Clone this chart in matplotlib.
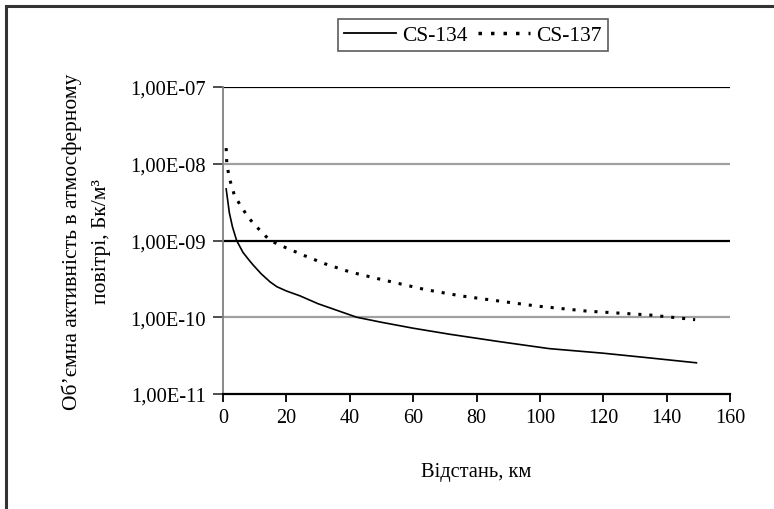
import numpy as np
import matplotlib.pyplot as plt
from matplotlib.ticker import FixedLocator, FuncFormatter, NullLocator
from matplotlib.patches import Rectangle
from matplotlib.lines import Line2D

plt.rcParams['font.family'] = ['Liberation Serif', 'DejaVu Serif']

# distance, km
km_134 = [1, 2, 3, 4.3, 6.3, 8, 9.5, 12, 14.8, 17, 20, 24.3, 30, 42.2, 50, 60, 71.6, 87.4, 103, 120, 134.7, 149.4]
cs_134 = [4.7e-9, 2.3e-9, 1.5e-9, 1.0e-9, 7.0e-10, 5.7e-10, 4.8e-10, 3.7e-10, 2.9e-10, 2.5e-10, 2.2e-10, 1.9e-10,
          1.5e-10, 1.0e-10, 8.6e-11, 7.2e-11, 6.0e-11, 4.8e-11, 3.9e-11, 3.4e-11, 2.95e-11, 2.55e-11]

km_137 = [1, 1.2, 2, 3.5, 5.4, 8, 10, 14.8, 20, 25.9, 32, 40, 50, 63.7, 75, 83.6, 99, 115, 134.7, 149]
cs_137 = [1.6e-8, 1.0e-8, 6.5e-9, 4.0e-9, 2.9e-9, 2.0e-9, 1.6e-9, 1.0e-9, 8.0e-10, 6.3e-10,
          5.0e-10, 3.9e-10, 3.1e-10, 2.3e-10, 1.9e-10, 1.7e-10, 1.4e-10, 1.2e-10, 1.07e-10, 9.3e-11]

y_ticks = [1e-11, 1e-10, 1e-9, 1e-8, 1e-7]
x_ticks = [0, 20, 40, 60, 80, 100, 120, 140, 160]
grid_colors = ['#a0a0a0', 'black', '#a0a0a0', 'black']  # for 1e-10 .. 1e-7

dots = (0, (1.0, 2.6))

fig = plt.figure(figsize=(7.74, 5.10), dpi=100)
ax = fig.add_axes([223/774, 1 - 395/510, (730 - 223)/774, (395 - 88)/510])

# outer chart frame (only left and top edges are visible)
fig.patches.append(Rectangle((5.5/774, -0.1), 1.2, 1.1 - 6.5/510, transform=fig.transFigure,
                             fill=False, edgecolor='#333333', linewidth=2.2))

for val, c in zip(y_ticks[1:], grid_colors):
    ax.axhline(val, color=c, linewidth=1.6, zorder=1)

ax.plot(km_134, cs_134, color='black', linewidth=1.2, zorder=3)
ax.plot(km_137, cs_137, color='black', linewidth=2.2, linestyle=dots, zorder=3)

ax.set_yscale('log')
ax.set_ylim(1e-11, 1e-7)
ax.set_xlim(0, 160)
ax.yaxis.set_major_locator(FixedLocator(y_ticks))
ax.yaxis.set_minor_locator(NullLocator())
ax.yaxis.set_major_formatter(FuncFormatter(lambda v, p: ('%.2E' % v).replace('.', ',')))
ax.set_xticks(x_ticks)

for s in ['top', 'right']:
    ax.spines[s].set_visible(False)
ax.spines['left'].set_color('#808080')
ax.spines['left'].set_linewidth(1.3)
ax.spines['bottom'].set_linewidth(1.6)
ax.tick_params(axis='y', direction='out', length=7, width=1.3, color='#404040', labelsize=14.8, pad=5)
ax.tick_params(axis='x', direction='out', length=6, width=1.3, labelsize=14.5, pad=4)

ax.set_xlabel('Відстань, км', fontsize=14.8, labelpad=25)
ax.set_ylabel('Об’ємна активність в атмосферному\nповітрі, Бк/м³', fontsize=15.5, labelpad=14,
              linespacing=1.75)

handles = [Line2D([], [], color='black', linewidth=1.3),
           Line2D([], [], color='black', linewidth=2.5, linestyle=dots)]
leg = fig.legend(handles, ['CS-134', 'CS-137'], loc='center', bbox_to_anchor=(473/774, 1 - 36/510),
                 ncol=2, fontsize=15.5, frameon=True, fancybox=False, handlelength=2.4,
                 handletextpad=0.3, columnspacing=0.5, borderpad=0.3, borderaxespad=0)
leg.get_frame().set_edgecolor('#333333')
leg.get_frame().set_linewidth(1.2)

fig.savefig('out.png', dpi=100)
